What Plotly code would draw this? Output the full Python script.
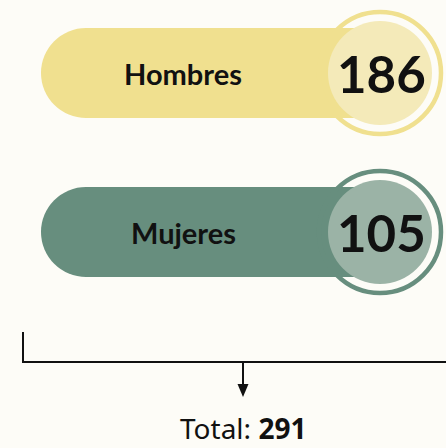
import plotly.graph_objects as go

# ---- data ----
categories = ["Hombres", "Mujeres"]
values = [186, 105]
total_label = "Total:"

# ---- styles ----
pill_colors = ["#f0e08f", "#678e7e"]
inner_colors = ["#f4eab9", "#9bb3a6"]
bg = "#fdfcf7"

W, H = 446, 448
row_y0, row_step = 73, 159
pill_left, pill_r = 41, 45
circ_cx, ring_r, inner_r = 380, 61, 52
label_cx = 183

fig = go.Figure()
shapes = []
annotations = []

for i, (cat, val) in enumerate(zip(categories, values)):
    cy = row_y0 + i * row_step
    col = pill_colors[i]
    shapes.append(dict(type="circle", xref="x", yref="y",
                       x0=pill_left, x1=pill_left + 2 * pill_r,
                       y0=cy - pill_r, y1=cy + pill_r,
                       fillcolor=col, line=dict(width=0), layer="above"))
    shapes.append(dict(type="rect", xref="x", yref="y",
                       x0=pill_left + pill_r, x1=circ_cx,
                       y0=cy - pill_r, y1=cy + pill_r,
                       fillcolor=col, line=dict(width=0), layer="above"))
    shapes.append(dict(type="circle", xref="x", yref="y",
                       x0=circ_cx - ring_r, x1=circ_cx + ring_r,
                       y0=cy - ring_r, y1=cy + ring_r,
                       fillcolor="rgba(0,0,0,0)", line=dict(width=4.5, color=col), layer="above"))
    shapes.append(dict(type="circle", xref="x", yref="y",
                       x0=circ_cx - inner_r, x1=circ_cx + inner_r,
                       y0=cy - inner_r, y1=cy + inner_r,
                       fillcolor=inner_colors[i], line=dict(width=0), layer="above"))
    annotations.append(dict(x=label_cx, y=cy, xref="x", yref="y", text=f"<b>{cat}</b>",
                            showarrow=False, xanchor="center", yanchor="middle",
                            font=dict(family="Lato", size=29, color="#111111", weight=900)))
    annotations.append(dict(x=circ_cx + 1, y=cy, xref="x", yref="y", text=f"<b>{val}</b>",
                            showarrow=False, xanchor="center", yanchor="middle",
                            font=dict(family="Lato", size=51, color="#111111", weight=900)))

# bracket
br_top, br_y, br_left = 332, 362, 23
arrow_x, arrow_tip = 243, 397
shapes.append(dict(type="line", xref="x", yref="y", x0=br_left, x1=br_left, y0=br_top, y1=br_y,
                   line=dict(color="#111111", width=2)))
shapes.append(dict(type="line", xref="x", yref="y", x0=br_left - 1, x1=W + 20, y0=br_y, y1=br_y,
                   line=dict(color="#111111", width=2)))
shapes.append(dict(type="line", xref="x", yref="y", x0=arrow_x, x1=arrow_x, y0=br_y, y1=arrow_tip - 8,
                   line=dict(color="#111111", width=2)))
shapes.append(dict(type="path", xref="x", yref="y",
                   path=f"M {arrow_x-5.5},{arrow_tip-13} L {arrow_x+5.5},{arrow_tip-13} L {arrow_x},{arrow_tip} Z",
                   fillcolor="#111111", line=dict(width=0)))

annotations.append(dict(x=arrow_x, y=H, xref="x", yref="y",
                        text=f"{total_label} <b>{sum(values)}</b>",
                        showarrow=False, xanchor="center", yanchor="bottom", borderpad=0,
                        font=dict(family="Noto Sans", size=28, color="#111111")))

fig.update_layout(
    width=W, height=H,
    margin=dict(l=0, r=0, t=0, b=0),
    paper_bgcolor=bg, plot_bgcolor=bg,
    xaxis=dict(range=[0, W], visible=False, fixedrange=True),
    yaxis=dict(range=[H, 0], visible=False, fixedrange=True),
    shapes=shapes, annotations=annotations, showlegend=False,
)
fig.write_html(
    "out.html",
    config={"displayModeBar": False},
    post_script=f"document.body.style.margin='0px';document.body.style.overflow='hidden';document.body.style.background='{bg}';",
)
